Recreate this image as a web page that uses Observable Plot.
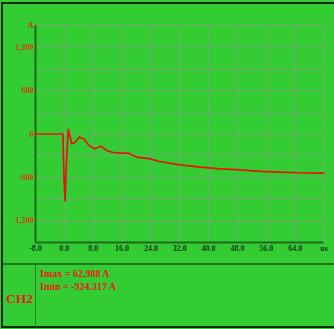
<!DOCTYPE html>
<html>
<head>
<meta charset="utf-8">
<script src="https://cdn.jsdelivr.net/npm/d3@7"></script>
<script src="https://cdn.jsdelivr.net/npm/@observablehq/plot@0.6"></script>
<style>
  html, body { margin: 0; padding: 0; background: #33cc33; width: 334px; height: 329px; overflow: hidden; }
  #scope { position: relative; width: 334px; height: 329px; overflow: hidden; font-family: "Liberation Serif", "DejaVu Serif", serif; }
  #scope svg { position: absolute; left: 0; top: 0; }
  .frame { position: absolute; left: 1px; top: 2px; width: 340px; height: 322px; border-left: 2px solid #142814; border-top: 2px solid #142814; border-bottom: 2px solid #142814; }
  .hsep { position: absolute; left: 3px; top: 263px; width: 331px; height: 2px; background: #1f7a1f; }
  .vsep { position: absolute; left: 35px; top: 265px; width: 1px; height: 62px; background: #228a22; }
  .reading { position: absolute; left: 40px; font-size: 10px; line-height: 10px; font-weight: bold; color: #e8201a; white-space: nowrap; }
  .channel { position: absolute; left: 6px; top: 292px; font-size: 13.5px; line-height: 13.5px; font-weight: bold; color: #e8201a; }
</style>
</head>
<body>
<div id="scope">
  <div class="frame"></div>
  <div class="hsep"></div>
  <div class="vsep"></div>
  <div class="reading" style="top:269px">Imax = 62.988 A</div>
  <div class="reading" style="top:281.5px">Imin = -924.317 A</div>
  <div class="channel">CH2</div>
</div>
<script>
// CH2 current trace: time in microseconds, current in amperes
const times = [-8, -4, -1, -0.4, -0.1, 0.2, 0.6, 1.1, 2.05, 3.0, 4.1, 5.4, 6.8, 8.4, 10.2, 11.8, 13.2, 15.5, 17.8, 20.1, 23.8, 26.4, 32.1, 37.7, 43.2, 48.8, 54.4, 60, 64.6, 72];
const currents = [0, 0, 0, 0, -587, -924.317, -366, 62.988, -135, -113, -44, -66, -159, -205, -169, -228, -252, -265, -265, -321, -343, -380, -426, -459, -483, -497, -518, -528, -536, -542];

// Axis ticks and labels
const xTicks = [-8, 0, 8, 16, 24, 32, 40, 48, 56, 64, 72];
const xTickLabels = ["-8.0", "0.0", "8.0", "16.0", "24.0", "32.0", "40.0", "48.0", "56.0", "64.0", "us"];
const yTicks = [1200, 600, 0, -600, -1200];
const yTickLabels = ["1,200", "600", "0", "-600", "-1,200"];
const yUnitTick = [1500];
const yUnitLabel = ["A"];
const yGrid = [-1500, -1200, -900, -600, -300, 0, 300, 600, 900, 1200, 1500];

const trace = times.map((t, i) => ({t, i: currents[i]}));

const gridColor = "#78a878";
const axisColor = "#1d6b1d";

const chart = Plot.plot({
  width: 334,
  height: 262,
  marginLeft: 35,
  marginRight: 10.5,
  marginTop: 25,
  marginBottom: 20,
  style: {background: "transparent", fontFamily: "'Liberation Serif', serif", fontWeight: "bold", fontSize: "8px"},
  x: {domain: [-8, 72], label: null},
  y: {domain: [-1500, 1500], label: null},
  marks: [
    Plot.gridY(yGrid, {stroke: gridColor, strokeOpacity: 1, strokeWidth: 1}),
    Plot.gridX(xTicks, {stroke: gridColor, strokeOpacity: 1, strokeWidth: 1}),
    Plot.ruleX([-8], {stroke: axisColor, strokeWidth: 2}),
    Plot.ruleY([-1500], {stroke: axisColor, strokeWidth: 2}),
    Plot.axisX(xTicks, {tickSize: 0, tickPadding: 2.5, fill: "#1e3a1e", fontWeight: "bold",
      tickFormat: (d) => xTickLabels[xTicks.indexOf(d)]}),
    Plot.axisY(yTicks, {tickSize: 0, tickPadding: 2, fill: "#d4400c", fontWeight: "bold",
      tickFormat: (d) => yTickLabels[yTicks.indexOf(d)]}),
    Plot.axisY(yUnitTick, {tickSize: 0, tickPadding: 2, fill: "#e4201a", fontWeight: "bold",
      tickFormat: (d) => yUnitLabel[yUnitTick.indexOf(d)]}),
    Plot.line(trace, {x: "t", y: "i", stroke: "#e8140c", strokeWidth: 1.7})
  ]
});

document.getElementById("scope").prepend(chart);
</script>
</body>
</html>
